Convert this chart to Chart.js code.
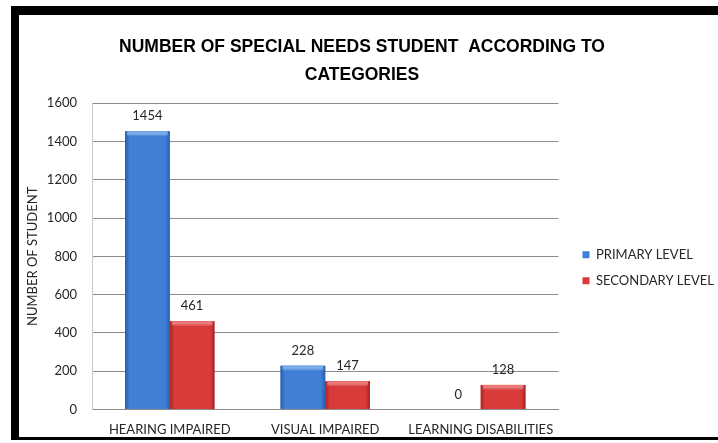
<!DOCTYPE html>
<html>
<head>
<meta charset="utf-8">
<script src="https://cdn.jsdelivr.net/npm/chart.js@4/dist/chart.umd.min.js"></script>
<style>
  html, body { margin:0; padding:0; background:#fff; }
  #wrap { position:relative; width:718px; height:443px; overflow:hidden; }
  #c { position:absolute; left:0; top:0; }
  #frame { position:absolute; left:11px; top:6px; width:800px; height:434px;
           border-left:8px solid #000; border-top:9px solid #000; border-bottom:3px solid #000;
           box-sizing:border-box; pointer-events:none; }
</style>
</head>
<body>
<div id="wrap">
  <canvas id="c" width="718" height="443"></canvas>
  <div id="frame"></div>
</div>
<script>
const categories = ["HEARING IMPAIRED", "VISUAL IMPAIRED", "LEARNING DISABILITIES"];
const primaryLevel = [1454, 228, 0];
const secondaryLevel = [461, 147, 128];
const seriesNames = ["PRIMARY LEVEL", "SECONDARY LEVEL"];
const titleLines = ["NUMBER OF SPECIAL NEEDS STUDENT  ACCORDING TO", "CATEGORIES"];
const yAxisTitle = "NUMBER OF STUDENT";

const BASE_FONT = "Lato, 'Open Sans', sans-serif";
const shades = [
  { edge: "#2a5cab", mid: "#3f80d6", light: "#6ea4e8" },
  { edge: "#a52525", mid: "#d93a3a", light: "#ec6d6a" }
];

const bevelPlugin = {
  id: "bevel",
  afterDatasetsDraw(chart) {
    const ctx = chart.ctx;
    chart.data.datasets.forEach((ds, di) => {
      const meta = chart.getDatasetMeta(di);
      const s = shades[di];
      meta.data.forEach((bar) => {
        const p = bar.getProps(["x", "y", "base", "width"], true);
        const left = p.x - p.width / 2, right = p.x + p.width / 2;
        const top = Math.min(p.y, p.base), bottom = Math.max(p.y, p.base);
        if (bottom - top < 0.5) return;
        const g = ctx.createLinearGradient(left, 0, right, 0);
        g.addColorStop(0, s.edge);
        g.addColorStop(0.1, s.mid);
        g.addColorStop(0.5, s.mid);
        g.addColorStop(0.9, s.mid);
        g.addColorStop(1, s.edge);
        ctx.save();
        ctx.fillStyle = g;
        ctx.fillRect(left, top, right - left, bottom - top);
        const h = Math.min(5, (bottom - top) / 3);
        const g2 = ctx.createLinearGradient(0, top, 0, top + h);
        g2.addColorStop(0, s.light);
        g2.addColorStop(1, "rgba(255,255,255,0)");
        ctx.fillStyle = g2;
        ctx.fillRect(left + 2, top, right - left - 4, h);
        ctx.restore();
      });
    });
  }
};

const valueLabelPlugin = {
  id: "valueLabels",
  afterDatasetsDraw(chart) {
    const ctx = chart.ctx;
    ctx.save();
    ctx.font = "13px " + BASE_FONT;
    ctx.fillStyle = "#262626";
    ctx.textAlign = "center";
    ctx.textBaseline = "middle";
    chart.data.datasets.forEach((ds, di) => {
      const meta = chart.getDatasetMeta(di);
      meta.data.forEach((bar, i) => {
        const p = bar.getProps(["x", "y"], true);
        ctx.fillText(String(ds.data[i]), p.x, p.y - 15);
      });
    });
    ctx.restore();
  }
};

new Chart(document.getElementById("c"), {
  type: "bar",
  data: {
    labels: categories,
    datasets: [
      { label: seriesNames[0], data: primaryLevel, backgroundColor: "#3f80d6",
        categoryPercentage: 0.575, barPercentage: 1.0 },
      { label: seriesNames[1], data: secondaryLevel, backgroundColor: "#d93a3a",
        categoryPercentage: 0.575, barPercentage: 1.0 }
    ]
  },
  options: {
    responsive: false,
    animation: false,
    devicePixelRatio: 1,
    layout: { padding: { top: 34, left: 0, right: -6, bottom: 0 } },
    plugins: {
      title: {
        display: true,
        text: titleLines,
        color: "#000",
        font: { family: "'Liberation Sans', Arial, sans-serif", size: 17.5, weight: "bold", lineHeight: 1.55 },
        padding: { top: 0, bottom: 15 }
      },
      legend: {
        position: "right",
        align: "start",
        maxWidth: 200,
        title: { display: true, text: " ", font: { size: 1 }, padding: { top: 200, bottom: 0 } },
        labels: {
          boxWidth: 7, boxHeight: 7,
          color: "#262626",
          font: { family: BASE_FONT, size: 13 },
          padding: 13
        }
      },
      tooltip: { enabled: false }
    },
    scales: {
      x: {
        grid: { display: false },
        border: { color: "#8c8c8c" },
        ticks: { color: "#262626", font: { family: BASE_FONT, size: 13 }, padding: 5, maxRotation: 0 }
      },
      y: {
        min: 0, max: 1600,
        afterFit: (s) => { s.width = 92; },
        ticks: { stepSize: 200, color: "#262626", font: { family: BASE_FONT, size: 13 }, padding: 15,
                 callback: (v) => String(v) },
        grid: { color: "#8c8c8c", drawTicks: false },
        border: { color: "#c8c8c8" },
        title: { display: true, text: yAxisTitle, color: "#262626",
                 font: { family: BASE_FONT, size: 13 }, padding: { top: 25, bottom: 6 } }
      },
      gap: {
        type: "linear",
        position: "right",
        display: true,
        afterFit: (s) => { s.width = 11; },
        grid: { display: false, drawTicks: false },
        border: { display: false },
        ticks: { display: false }
      }
    }
  },
  plugins: [bevelPlugin, valueLabelPlugin]
});
</script>
</body>
</html>
